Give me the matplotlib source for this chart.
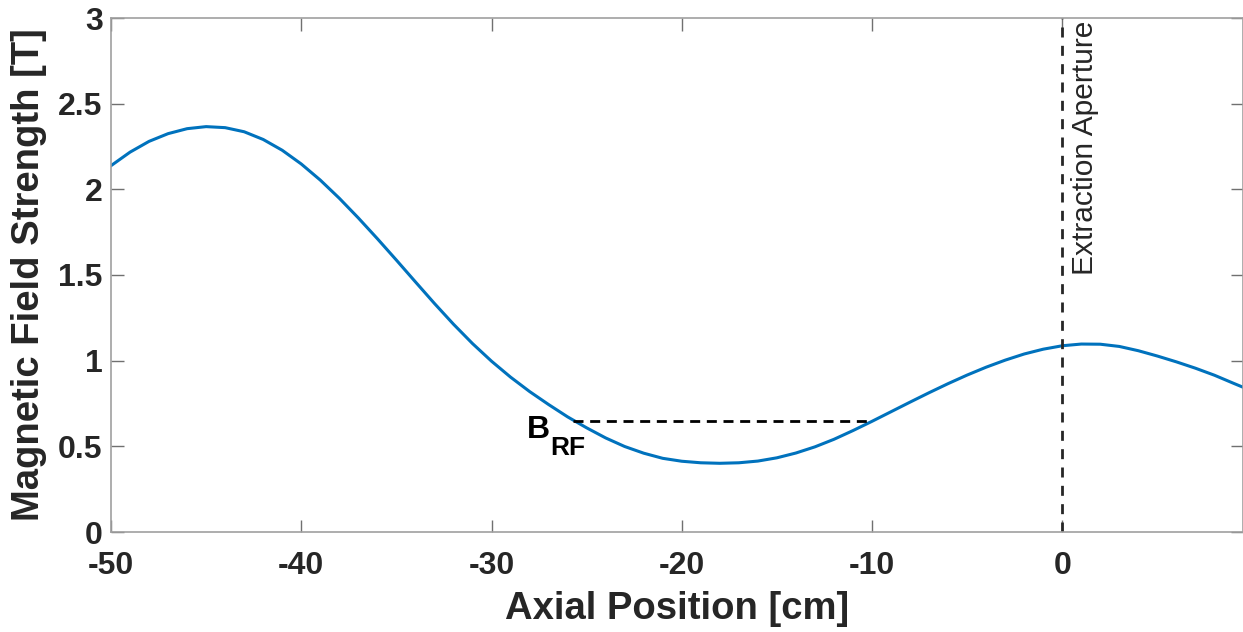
import matplotlib
matplotlib.use("Agg")
import matplotlib.pyplot as plt

plt.rcParams['font.family'] = ['Liberation Sans', 'DejaVu Sans']

# Data
axial_cm = [-50, -49, -48, -47, -46, -45, -44, -43, -42, -41, -40, -39, -38,
            -37, -36, -35, -34, -33, -32, -31, -30, -29, -28, -27, -26, -25, -24,
            -23, -22, -21, -20, -19, -18, -17, -16, -15, -14, -13, -12, -11, -10,
            -9, -8, -7, -6, -5, -4, -3, -2, -1, 0, 1, 2, 3, 4, 5, 6, 7, 8, 9, 9.5]
field_T = [2.138, 2.217, 2.280, 2.325, 2.354, 2.366, 2.360, 2.336, 2.291, 2.228,
           2.148, 2.054, 1.948, 1.833, 1.712, 1.587, 1.460, 1.334, 1.213, 1.100,
           0.997, 0.904, 0.820, 0.744, 0.672, 0.608, 0.549, 0.499, 0.460, 0.430,
           0.413, 0.404, 0.401, 0.404, 0.414, 0.433, 0.461, 0.497, 0.541, 0.592,
           0.646, 0.702, 0.758, 0.813, 0.866, 0.916, 0.962, 1.003, 1.039, 1.067,
           1.087, 1.097, 1.096, 1.083, 1.058, 1.027, 0.993, 0.956, 0.915, 0.868,
           0.845]
brf_x = [-25.7, -10.1]
brf_level = 0.648
aperture_x = 0.0
xticks = [-50, -40, -30, -20, -10, 0]
yticks = [0, 0.5, 1, 1.5, 2, 2.5, 3]
ytick_labels = ['0', '0.5', '1', '1.5', '2', '2.5', '3']

W, H = 1243, 632
fig = plt.figure(figsize=(W / 100, H / 100), dpi=100)
ax = fig.add_axes([111 / W, (H - 532) / H, (1243 - 111) / W, (532 - 18) / H])

ax.plot(axial_cm, field_T, color='#0072BD', lw=2.2, solid_joinstyle='round')
ax.plot(brf_x, [brf_level, brf_level], color='black', lw=2.0, linestyle=(0, (3.6, 2.4)))
ax.plot([aperture_x, aperture_x], [0, 3], color='#262626', lw=2.0, linestyle=(0, (3.6, 3.0)))

ax.set_xlim(-50, 9.5)
ax.set_ylim(0, 3)
ax.set_xticks(xticks)
ax.set_xticklabels([str(t) for t in xticks])
ax.set_yticks(yticks)
ax.set_yticklabels(ytick_labels)

for s in ax.spines.values():
    s.set_color('#a0a0a0')
    s.set_linewidth(1.2)
ax.tick_params(direction='in', length=9, width=1, color='#707070',
               top=True, right=True, labelsize=23, labelcolor='#262626')
ax.tick_params(axis='x', pad=14)
ax.tick_params(axis='y', pad=6)
for lab in ax.get_xticklabels() + ax.get_yticklabels():
    lab.set_fontweight('bold')

ax.set_xlabel('Axial Position [cm]', fontsize=27.5, fontweight='bold', color='#262626', labelpad=7)
ax.set_ylabel('Magnetic Field Strength [T]', fontsize=27.5, fontweight='bold', color='#262626', labelpad=8)

ax.text(0.45, 2.985, 'Extraction Aperture', rotation=90, ha='left', va='top',
        fontsize=21.5, color='#262626')
ax.text(-28.15, 0.549, 'B', fontsize=23, fontweight='bold', color='black',
        ha='left', va='baseline')
ax.text(-26.9, 0.4495, 'RF', fontsize=19, fontweight='bold', color='black',
        ha='left', va='baseline')

fig.savefig('out.png', dpi=100)
